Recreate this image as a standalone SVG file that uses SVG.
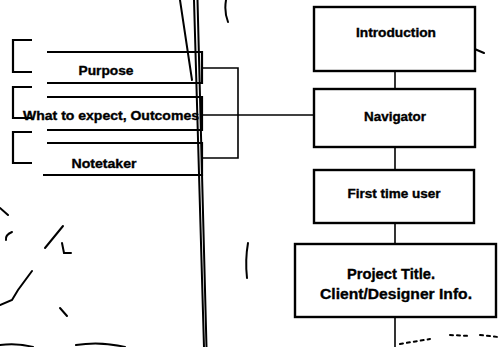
<svg xmlns="http://www.w3.org/2000/svg" width="500" height="347" viewBox="0 0 500 347">
<style>
.box{fill:#fff;stroke:#000;stroke-width:2.4}
.edge{fill:none;stroke:#000;stroke-width:1.6}
.lbox{fill:none;stroke:#000;stroke-width:2.2}
.t{font-family:"Liberation Sans",Arial,sans-serif;font-weight:bold;fill:#000;stroke:#000;stroke-width:0.35;text-anchor:middle;font-size:12.5px}
.big{font-size:14.5px}
.sk{fill:none;stroke:#000;stroke-width:2;stroke-linecap:round}
</style>
<rect width="500" height="347" fill="#fff"/>
<g id="sketch">
<path class="sk" d="M194,0 L204,347" stroke-width="2.4"/>
<path class="sk" d="M197.5,0 L206.5,347" stroke-width="1.6"/>
<path class="sk" d="M180,0 L192,80" stroke-width="1.6"/>
<path class="sk" d="M226,0 Q224,12 228,22" stroke-width="1.6"/>
<path class="sk" d="M248,243 Q245,260 247,278" stroke-width="1.6"/>
<path class="sk" d="M0,208 L8,215"/>
<path class="sk" d="M12,232 Q5,235 6,240"/>
<path class="sk" d="M63,226 L45,248"/>
<path class="sk" d="M62,243 L64,253 L71,253"/>
<path class="sk" d="M32,271 L18,290 L12,300 L0,305" stroke-width="2.8"/>
<path class="sk" d="M60,308 L67,316"/>
<path class="sk" d="M0,345 Q18,343 33,347" stroke-width="1.5"/>
<path class="sk" d="M76,345 Q100,341 125,347" stroke-width="1.2"/>
<path class="sk" d="M337,13 L336,18" stroke-width="1.5"/>
<path class="sk" d="M359,13 L362,14" stroke-width="1.2"/>
<path class="sk" d="M403,13 L399,18" stroke-width="1.5"/>
<path class="sk" d="M470,47 L484,53" stroke-width="1"/>
<path class="sk" d="M400,344 L430,339 M450,335 L470,336 M480,335 L498,337" stroke-width="1" stroke-dasharray="3 4"/>
</g>
<g id="connectors">
<path class="edge" d="M395,71 V89"/>
<path class="edge" d="M395,147 V170"/>
<path class="edge" d="M395,223 V244"/>
<path class="edge" d="M395,317 V347" stroke-width="2.4"/>
<path class="edge" d="M202,68 H238 V158 H202"/>
<path class="edge" d="M202,115 H314"/>
</g>
<g id="intro"><rect class="box" x="314" y="7" width="161" height="64"/><text class="t" x="396" y="37" textLength="80" lengthAdjust="spacingAndGlyphs">Introduction</text></g>
<g id="navigator"><rect class="box" x="314" y="89" width="161" height="58"/><text class="t" x="395" y="121" textLength="62" lengthAdjust="spacingAndGlyphs">Navigator</text></g>
<g id="firsttime"><rect class="box" x="314" y="170" width="160" height="53"/><text class="t" x="394" y="198" textLength="93" lengthAdjust="spacingAndGlyphs">First time user</text></g>
<g id="project"><rect class="box" x="295" y="244" width="201" height="73"/><text class="t big" x="391" y="279" textLength="88" lengthAdjust="spacingAndGlyphs">Project Title.</text><text class="t big" x="396" y="299" textLength="152" lengthAdjust="spacingAndGlyphs">Client/Designer Info.</text></g>
<g id="purpose"><path class="lbox" d="M32,40 H13 V72 H32 M47,52 H202 V83 H47"/><text class="t" x="106" y="75" textLength="55" lengthAdjust="spacingAndGlyphs">Purpose</text></g>
<g id="outcomes"><path class="lbox" d="M32,87 H13 V118 H32 M47,97 H202 V130 H47"/><text class="t" x="111" y="120" textLength="176" lengthAdjust="spacingAndGlyphs">What to expect, Outcomes</text></g>
<g id="notetaker"><path class="lbox" d="M32,132 H13 V163 H32 M47,143 H202 V175 H43"/><text class="t" x="104" y="168" textLength="65" lengthAdjust="spacingAndGlyphs">Notetaker</text></g>
</svg>
